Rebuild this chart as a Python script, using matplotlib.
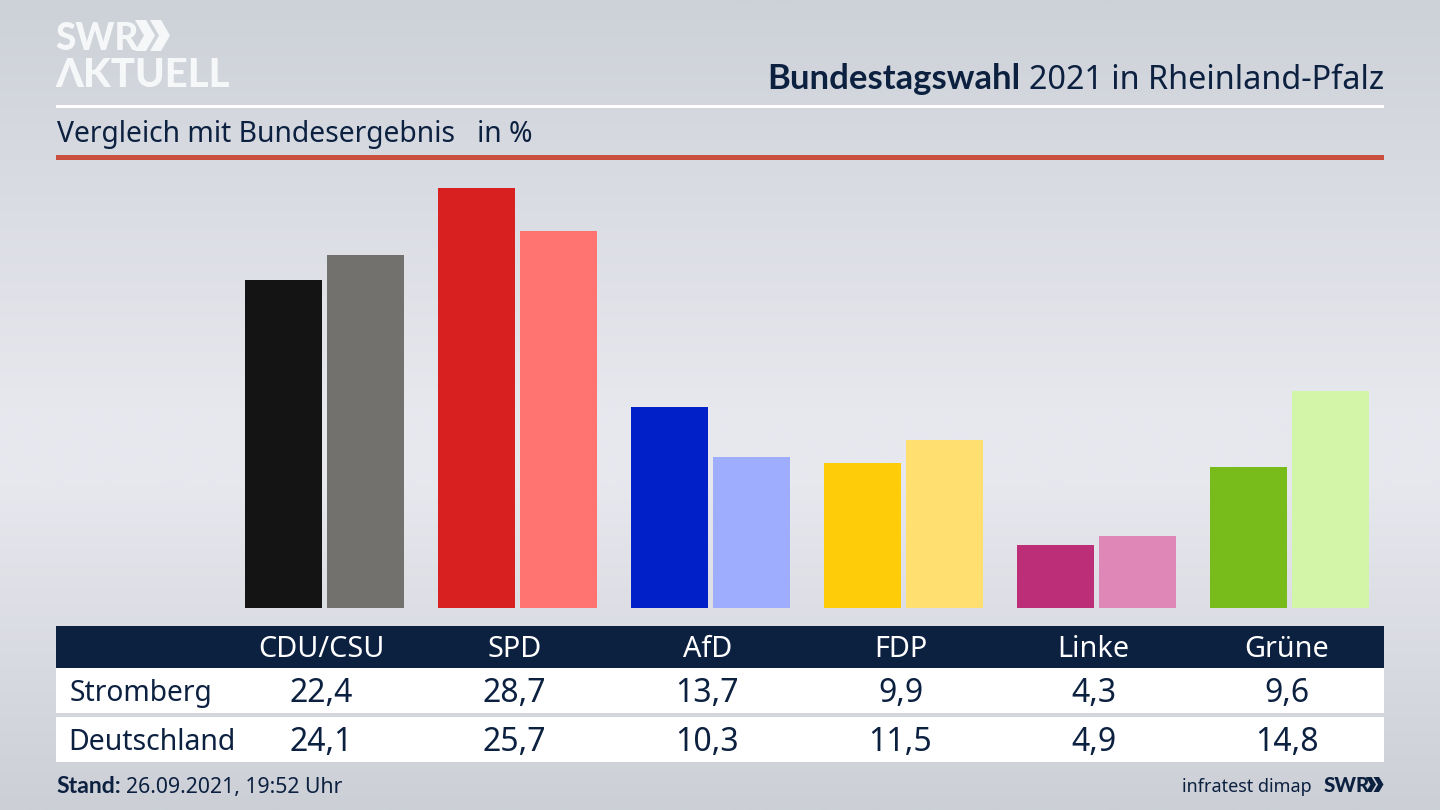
import numpy as np
import matplotlib
matplotlib.use("Agg")
import matplotlib.pyplot as plt
from matplotlib.patches import Rectangle, Polygon

parties = ["CDU/CSU", "SPD", "AfD", "FDP", "Linke", "Grüne"]
stromberg = [22.4, 28.7, 13.7, 9.9, 4.3, 9.6]
deutschland = [24.1, 25.7, 10.3, 11.5, 4.9, 14.8]
colors_a = ["#141414", "#d7201f", "#0120c8", "#ffcc0a", "#bc2f78", "#78bc1b"]
colors_b = ["#72716e", "#ff7370", "#9fadff", "#fedf70", "#df87b6", "#d3f5a8"]
row_names = ["Stromberg", "Deutschland"]

plt.rcParams["font.family"] = ["Noto Sans", "DejaVu Sans"]
W, H = 1440, 810
NAVY = "#0c2040"
fig = plt.figure(figsize=(14.4, 8.1), dpi=100)

def rect(l, t, r, b):
    return [l / W, 1 - b / H, (r - l) / W, (b - t) / H]

# background
bg = fig.add_axes([0, 0, 1, 1], zorder=0)
yy = np.linspace(0, 1, 256)
stops_y = [0, 0.5, 0.6, 1]
top = np.array([205, 209, 216]); mid = np.array([231, 232, 238]); bot = np.array([204, 207, 214])
shade = np.stack([np.interp(yy, stops_y, [top[i], mid[i], mid[i], bot[i]]) for i in range(3)], axis=1)
bg.imshow(shade[:, None, :] / 255, aspect="auto", extent=(0, W, H, 0), interpolation="bilinear")
bg.set_xlim(0, W); bg.set_ylim(H, 0); bg.axis("off")

# bars
ax = fig.add_axes(rect(56, 160, 1384, 608), zorder=1)
pps = 14.65
step = 193.0
ax.set_xlim((56 - 324.6) / step, (1384 - 324.6) / step)
ax.set_ylim(0, 448 / pps)
x = np.arange(len(parties))
ax.bar(x - 41 / step, stromberg, 77 / step, color=colors_a)
ax.bar(x + 41 / step, deutschland, 77 / step, color=colors_b)
ax.axis("off")

# overlay in pixels
ov = fig.add_axes([0, 0, 1, 1], zorder=2)
ov.set_xlim(0, W); ov.set_ylim(H, 0); ov.axis("off"); ov.patch.set_alpha(0)

def T(px, py, s, size, color=NAVY, ha="left", weight="normal", family=None, **kw):
    if family:
        kw["family"] = family
    return ov.text(px, py, s, fontsize=size * 0.72, color=color, ha=ha, va="baseline", fontweight=weight, **kw)

# logo
LOGO = "#f6f7f8"
T(55, 50, "SWR", 37, LOGO, weight="black", family=["Lato", "DejaVu Sans"])
def chevrons(x0, y0, h, w, t, dx2, col):
    for dx in (0, dx2):
        ov.add_patch(Polygon([(x0 + dx, y0), (x0 + dx + t, y0), (x0 + dx + w, y0 + h / 2),
                              (x0 + dx + t, y0 + h), (x0 + dx, y0 + h), (x0 + dx + w - t, y0 + h / 2)],
                             closed=True, color=col, lw=0))
chevrons(135, 20, 31, 20, 11, 15, LOGO)
T(55, 87, "ΛKTUELL", 40, LOGO, weight="black", family=["Lato", "DejaVu Sans"])

# header
t2 = T(1384, 89, "2021 in Rheinland-Pfalz", 32.4, ha="right")
fig.canvas.draw()
bb = t2.get_window_extent()
T(bb.x0 * W / fig.bbox.width - 9, 89, "Bundestagswahl", 34.6, ha="right", weight="bold", family=["Lato", "DejaVu Sans"])
ov.add_patch(Rectangle((56, 104.5), 1328, 3, color="#ffffff", lw=0))
T(57, 142, "Vergleich mit Bundesergebnis", 28.3)
T(477, 142, "in %", 28.3)
ov.add_patch(Rectangle((56, 155), 1328, 5, color="#cb4f3f", lw=0))

# table
ov.add_patch(Rectangle((56, 626), 1328, 42, color=NAVY, lw=0))
ov.add_patch(Rectangle((56, 668), 1328, 45, color="#ffffff", lw=0))
ov.add_patch(Rectangle((56, 717), 1328, 45, color="#ffffff", lw=0))
centers = 321.5 + x * 193
for c, p, a, b in zip(centers, parties, stromberg, deutschland):
    T(c, 657, p, 28.8, "#ffffff", ha="center")
    T(c, 702, f"{a:.1f}".replace(".", ","), 32, ha="center")
    T(c, 751, f"{b:.1f}".replace(".", ","), 32, ha="center")
T(70, 701, row_names[0], 28.2)
T(68.5, 750, row_names[1], 28.4)

# footer
T(56, 793, "Stand:", 23, weight="bold", family=["Lato", "DejaVu Sans"])
T(126, 793, "26.09.2021, 19:52 Uhr", 21.2)
T(1312, 792, "infratest dimap", 18, ha="right")
T(1324, 792, "SWR", 20.5, weight="black", family=["Lato", "DejaVu Sans"])
chevrons(1366, 777, 15, 10, 5.5, 7.5, NAVY)

fig.savefig("out.png", dpi=100)
